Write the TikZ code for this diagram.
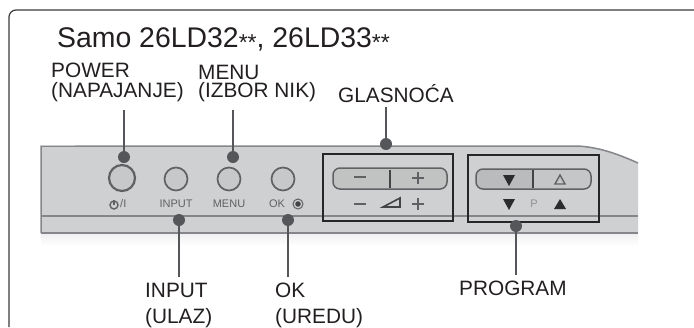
\documentclass[tikz,border=0pt]{standalone}
\usepackage{fontspec}
\setmainfont{Liberation Sans}
\usetikzlibrary{shapes.geometric}
\definecolor{framecol}{HTML}{3A3A3A}
\definecolor{leadcol}{HTML}{55565A}
\definecolor{panelcol}{HTML}{CFD0D1}
\definecolor{edgecol}{HTML}{85868A}
\definecolor{printcol}{HTML}{606163}
\definecolor{txtcol}{HTML}{231F20}
\newcommand{\stars}{\raisebox{-3pt}{\fontsize{23}{23}\selectfont**}}
\tikzset{
  lbl/.style={anchor=base west, inner sep=0pt, text=txtcol, align=left,
    font=\fontsize{20.8}{20.5}\selectfont},
  printed/.style={inner sep=0pt, text=printcol, font=\fontsize{11}{11}\selectfont},
  dot/.style={circle, fill=leadcol, inner sep=0pt, minimum size=12pt},
  btn/.style={circle, draw=printcol, line width=1.7pt, fill=panelcol!90!gray,
    inner sep=0pt, minimum size=23pt},
  lead/.style={draw=leadcol, line width=2pt},
  selbox/.style={draw=black!85, line width=1.3pt},
  pill/.style={draw=printcol, line width=1.5pt, rounded corners=7pt},
}
\begin{document}
\begin{tikzpicture}[x=1pt, y=-1pt]
  \useasboundingbox (0,0) rectangle (694,327);

  % frame
  \draw[framecol, line width=1.2pt, rounded corners=7pt] (9,327) -- (9,10) -- (694,10);

  % panel
  \shade[top color=black!6, bottom color=white] (41,233) rectangle (638,246);
  \fill[panelcol] (41,146) -- (577,146) .. controls (600,147) and (620,155) .. (638,163)
    -- (638,233) -- (41,233) -- cycle;
  \draw[edgecol, line width=1.5pt] (41,233) -- (41,146) -- (577,146)
    .. controls (600,147) and (620,155) .. (638,163);
  \draw[black!20, line width=1.5pt] (41,145.5) -- (75,145.5);
  \draw[edgecol, line width=1.3pt] (41,216) -- (638,216);
  \draw[edgecol, line width=1.5pt] (41,233) -- (638,233);

  % buttons
  \node[btn, minimum size=26pt, line width=2.2pt] (powerbtn) at (122,178) {};
  \node[btn] (inputbtn) at (176,179) {};
  \node[btn] (menubtn) at (229,179) {};
  \node[btn] (okbtn) at (283,179) {};

  % printed names
  \node[circle, draw=printcol, line width=1.4pt, inner sep=0pt, minimum size=8pt] (powersign) at (114,205) {};
  \draw[printcol, line width=1.4pt] (powersign.center) -- (powersign.north);
  \node[printed, anchor=west] (powerslash) at (120,204) {/I};
  \node[printed] (inputname) at (176,204) {INPUT};
  \node[printed] (menuname) at (229,204) {MENU};
  \node[printed] (okname) at (277,204) {OK};
  \node[circle, draw=printcol, line width=1pt, inner sep=0pt, minimum size=10pt] (okring) at (298,204) {};
  \fill[printcol!70!black] (okring) circle (2.8pt);

  % volume
  \fill[panelcol!93!black, rounded corners=7pt] (333,168) rectangle (447,189);
  \draw[pill] (333,168) rectangle (447,189);
  \draw[printcol!70!black, line width=1.3pt] (390,170) -- (390,188);
  \draw[printcol, line width=1.7pt] (354,177) -- (366,177);
  \draw[printcol, line width=1.7pt] (412,178) -- (424,178) (418,172) -- (418,184);
  \draw[printcol, line width=1.7pt] (354,204) -- (366,204);
  \draw[printcol, line width=1.7pt] (412,204) -- (424,204) (418,198) -- (418,210);
  \draw[printcol!70!black, line width=1.6pt] (383,207) -- (400,207) -- (400,198) -- cycle;
  \node[selbox, minimum width=130pt, minimum height=67pt, inner sep=0pt] (volbox) at (388,187.5) {};

  % program
  \fill[panelcol!90!black, rounded corners=7pt] (476,169) rectangle (591,189);
  \fill[panelcol!95!black, rounded corners=7pt] (533,169) rectangle (591,189);
  \fill[panelcol!95!black] (533,169) rectangle (545,189);
  \draw[pill] (476,169) rectangle (591,189);
  \draw[printcol!70!black, line width=1.5pt] (533,170) -- (533,188);
  \fill[printcol!45!black] (503,175) -- (515,175) -- (509,186) -- cycle;
  \draw[printcol, line width=1.4pt] (555,184) -- (565,184) -- (560,175) -- cycle;
  \fill[printcol!45!black] (503,199) -- (515,199) -- (509,210) -- cycle;
  \fill[printcol!45!black] (554,209) -- (566,209) -- (560,199) -- cycle;
  \node[printed, text=printcol!70] (pname) at (534,204) {P};
  \node[selbox, minimum width=131pt, minimum height=67pt, inner sep=0pt] (progbox) at (533.5,188.5) {};

  % connectors
  \coordinate (powertop) at (124,110);
  \coordinate (menutop) at (233,110);
  \coordinate (voltop) at (386,107);
  \coordinate (inputend) at (179,277);
  \coordinate (okend) at (288,277);
  \coordinate (progend) at (516,275);

  \node[dot] (powerdot) at (124,157) {};
  \node[dot] (menudot) at (233,157) {};
  \node[dot] (voldot) at (386,144) {};
  \node[dot] (inputdot) at (179,220) {};
  \node[dot] (okdot) at (288,220) {};
  \node[dot] (progdot) at (516,226) {};

  \draw[lead] (powertop) -- (powerdot);
  \draw[lead] (menutop) -- (menudot);
  \draw[lead] (voltop) -- (voldot);
  \draw[lead] (inputdot) -- (inputend);
  \draw[lead] (okdot) -- (okend);
  \draw[lead] (progdot) -- (progend);

  % texts
  \node[lbl, font=\fontsize{28.4}{28.4}\selectfont] (title) at (57,47) {Samo 26LD32\stars, 26LD33\stars};
  \node[lbl] (powerlbl) at (51,97) {POWER\\[-1pt](NAPAJANJE)};
  \node[lbl] (menulbl) at (198,97) {MENU\\[-3pt](IZBOR NIK)};
  \node[lbl] (vollbl) at (338,102) {GLASNOĆA};
  \node[lbl] (inputlbl) at (145,323) {INPUT\\[5.5pt](ULAZ)};
  \node[lbl] (oklbl) at (275,323) {OK\\[5.5pt](UREDU)};
  \node[lbl] (proglbl) at (459,295) {PROGRAM};
\end{tikzpicture}
\end{document}
